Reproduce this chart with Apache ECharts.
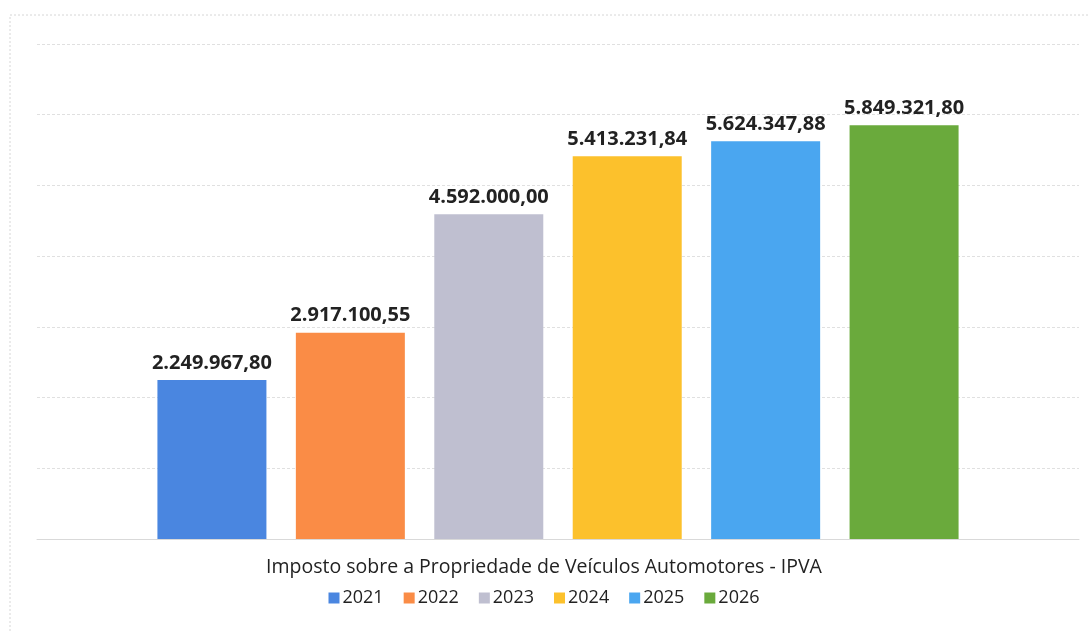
<script src="https://cdn.jsdelivr.net/npm/echarts@6/dist/echarts.min.js"></script>
<div id="mainChart"></div>
<style>
  html, body { margin: 0; padding: 0; background: #fff; }
  #mainChart { width: 1088px; height: 633px; }
</style>
<script>
  // IPVA arrecadado por ano
  var years = ['2021', '2022', '2023', '2024', '2025', '2026'];
  var values = [2249967.80, 2917100.55, 4592000.00, 5413231.84, 5624347.88, 5849321.80];
  var colors = ['#4a86e0', '#fa8c46', '#bfbfd0', '#fcc12c', '#4aa6f0', '#6aaa3c'];
  var chartTitle = 'Imposto sobre a Propriedade de Veículos Automotores - IPVA';

  function fmtBR(v) {
    var parts = v.toFixed(2).split('.');
    var intPart = parts[0].replace(/\B(?=(\d{3})+(?!\d))/g, '.');
    return intPart + ',' + parts[1];
  }

  var series = years.map(function (y, i) {
    return {
      name: y,
      type: 'bar',
      barWidth: 109,
      barGap: '27%',
      itemStyle: { color: colors[i] },
      label: {
        show: true,
        position: 'top',
        distance: 7,
        color: '#222',
        fontWeight: 'bold',
        fontSize: 20,
        fontFamily: 'Open Sans',
        formatter: function (p) { return fmtBR(p.value); }
      },
      data: [values[i]]
    };
  });

  var chart = echarts.init(document.getElementById('mainChart'));
  chart.setOption({
    animation: false,
    graphic: [{
      type: 'rect',
      shape: { x: 10, y: 15, width: 1200, height: 800 },
      style: { fill: 'none', stroke: '#d6d6d6', lineDash: [2, 2], lineWidth: 1 },
      silent: true
    }],
    title: {
      text: chartTitle,
      left: 'center',
      top: 552,
      textStyle: { fontFamily: 'Open Sans', fontWeight: 'normal', fontSize: 19.5, color: '#222' }
    },
    legend: {
      data: years,
      left: 'center',
      top: 584,
      itemWidth: 11,
      itemHeight: 11,
      itemGap: 20,
      icon: 'rect',
      textStyle: { fontFamily: 'Open Sans', fontSize: 18, color: '#222', padding: [0, 0, 0, -2] }
    },
    grid: { left: 37, right: 9, top: 44, bottom: 94 },
    xAxis: {
      type: 'category',
      data: [''],
      axisLine: { lineStyle: { color: '#d9d9d9' } },
      axisTick: { show: false },
      axisLabel: { show: false }
    },
    yAxis: {
      type: 'value',
      min: 0,
      max: 7000000,
      interval: 1000000,
      axisLabel: { show: false },
      axisLine: { show: false },
      axisTick: { show: false },
      splitLine: { lineStyle: { color: '#e0e0e0', type: [3, 2] } }
    },
    series: series
  });
</script>
